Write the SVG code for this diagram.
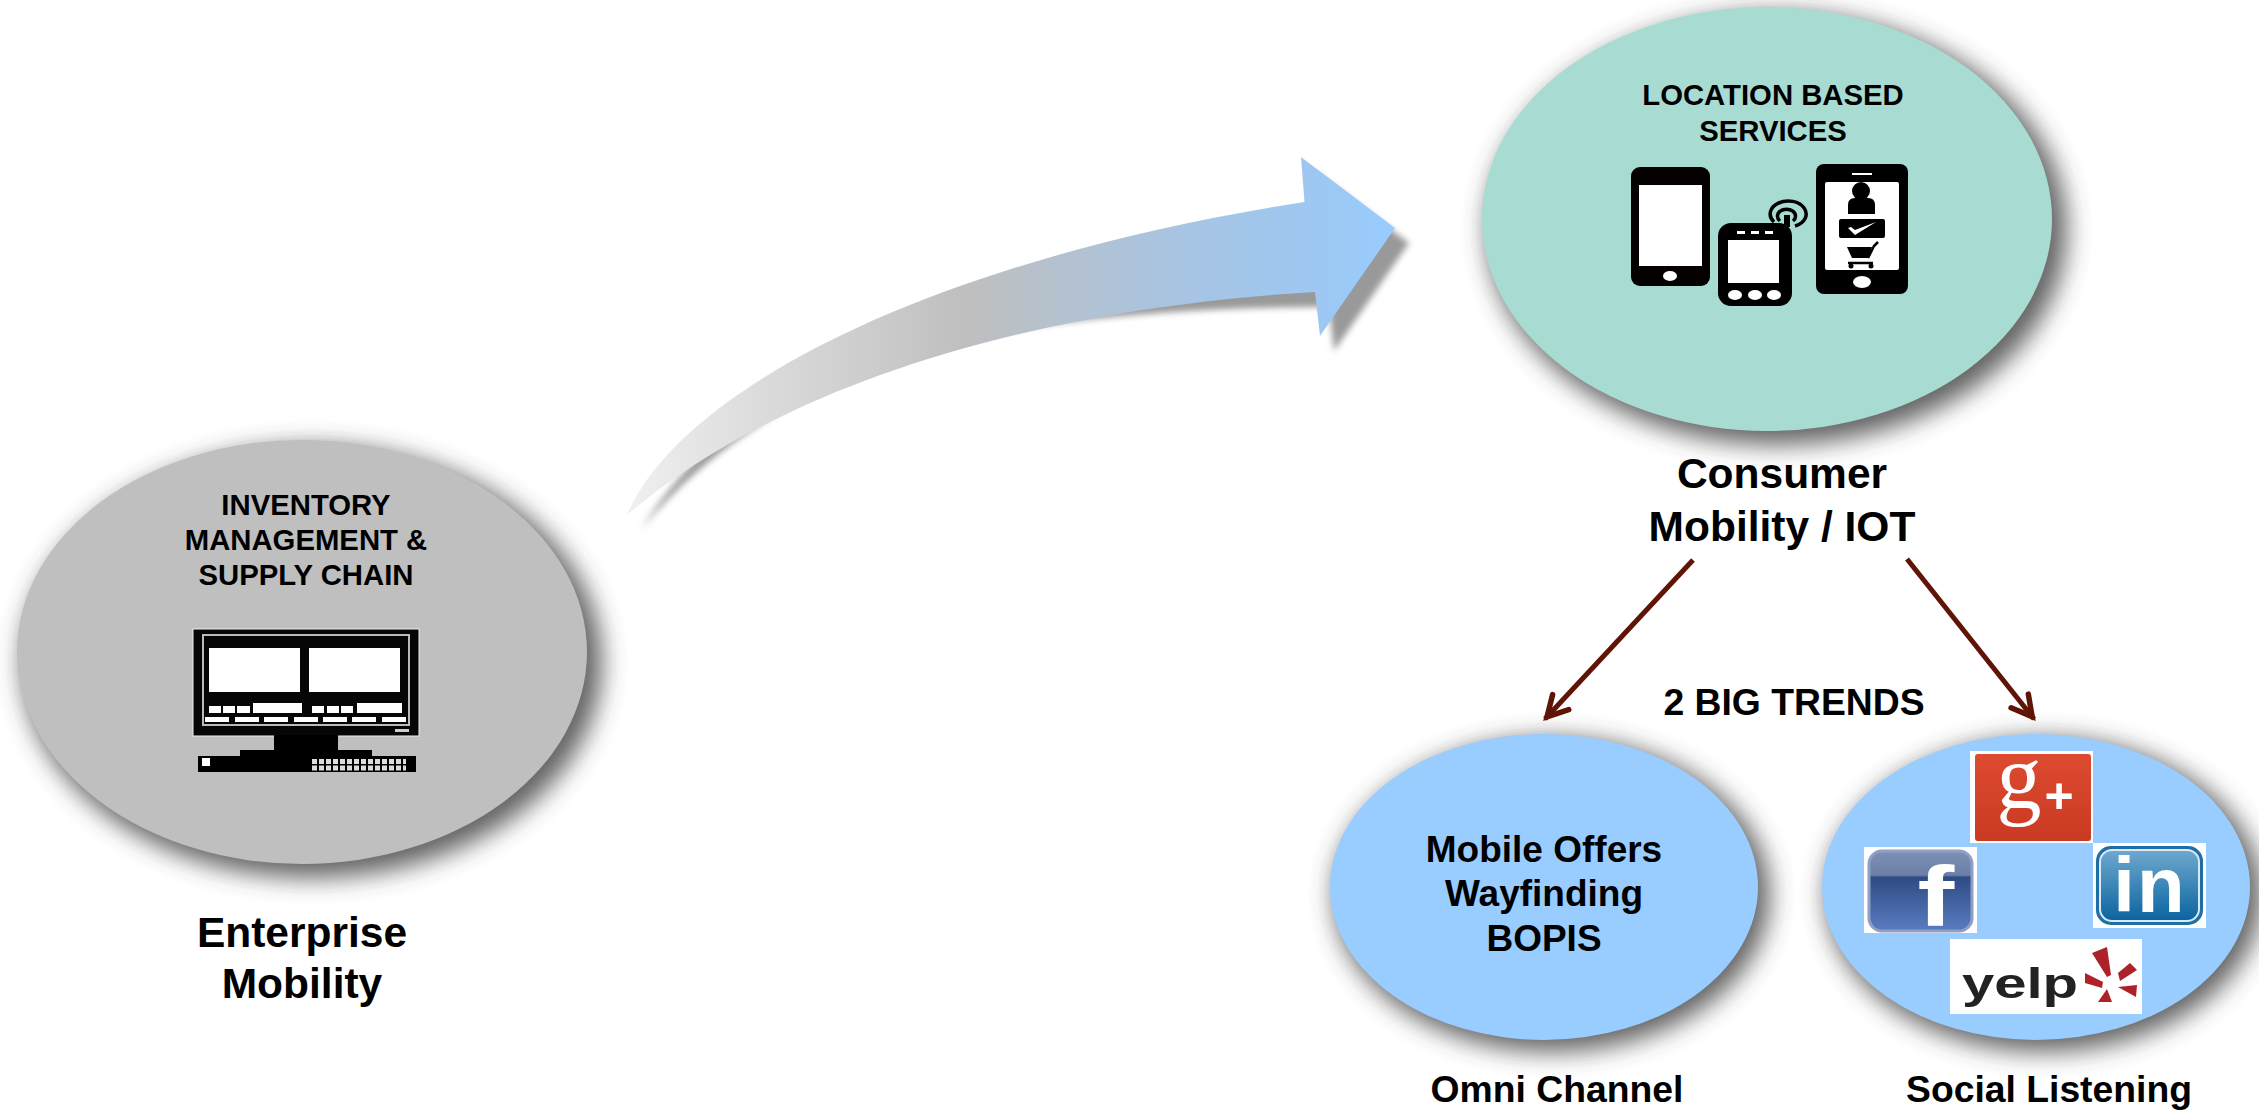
<svg xmlns="http://www.w3.org/2000/svg" width="2259" height="1111" viewBox="0 0 2259 1111">
<defs>
<linearGradient id="ag" gradientUnits="userSpaceOnUse" x1="627" y1="300" x2="1394" y2="300">
<stop offset="0" stop-color="#f0f0f0"/><stop offset="0.17" stop-color="#dcdcdc"/><stop offset="0.44" stop-color="#bfbfbf"/><stop offset="0.72" stop-color="#a8c4e2"/><stop offset="0.92" stop-color="#9cc8f4"/><stop offset="1" stop-color="#99ccff"/>
</linearGradient>
<linearGradient id="fb" x1="0" y1="0" x2="0" y2="1"><stop offset="0" stop-color="#7e90b3"/><stop offset="0.3" stop-color="#6b7fa8"/><stop offset="0.33" stop-color="#2f4b85"/><stop offset="1" stop-color="#5a7cc0"/></linearGradient>
<linearGradient id="li" x1="0" y1="0" x2="0" y2="1"><stop offset="0" stop-color="#6fa8cf"/><stop offset="1" stop-color="#0a64a0"/></linearGradient>
<linearGradient id="gp" x1="0" y1="0" x2="0" y2="1"><stop offset="0" stop-color="#dd4b30"/><stop offset="1" stop-color="#c93a22"/></linearGradient>
<filter id="sh" x="-15%" y="-15%" width="130%" height="130%"><feGaussianBlur stdDeviation="12"/></filter>
<filter id="sa" x="-10%" y="-10%" width="120%" height="120%"><feGaussianBlur stdDeviation="3"/></filter>
<marker id="ah" markerUnits="userSpaceOnUse" markerWidth="32" markerHeight="32" refX="27" refY="14" orient="auto"><path d="M4 3L24 14L4 25" fill="none" stroke="#5f1406" stroke-width="5.500" stroke-linecap="round" stroke-linejoin="miter"/></marker>
</defs>
<style>
text{font-family:"Liberation Sans",Arial,sans-serif;font-weight:700;fill:#000;text-anchor:middle}
.s{font-size:29.300px}.l{font-size:42.500px}.m{font-size:37px}.t{font-size:37.300px}.b{fill:#000}.w{fill:#fff}
.c{stroke:#5f1406;stroke-width:5;fill:none;marker-end:url(#ah)}
.ds{fill:#3c3c3c;opacity:0.8;filter:url(#sh)}
</style>
<rect width="2259" height="1111" fill="#fff"/>
<g id="big-arrow">
<path d="M627 515C690 435 820 340 1015 312C1110 298 1220 292 1315 292L1320 336L1395 228L1301 157L1304.500 202C1010 250 740 330 627 515Z" transform="translate(14 15)" fill="#808080" opacity="0.8" filter="url(#sa)"/>
<path d="M627 515C760 400 1000 310 1315 292L1320 336L1395 228L1301 157L1304.500 202C930 260 680 390 627 515Z" fill="url(#ag)"/>
</g>
<g id="enterprise">
<ellipse class="ds" cx="312" cy="662" rx="290" ry="216"/>
<ellipse cx="302" cy="652" rx="285" ry="212" fill="#bfbfbf"/>
<text class="s" x="306" y="515">INVENTORY</text><text class="s" x="306" y="550">MANAGEMENT &amp;</text><text class="s" x="306" y="585">SUPPLY CHAIN</text>
<rect x="193" y="629" width="226" height="107" fill="#060606" stroke="#eee" stroke-width="1"/>
<rect x="203" y="635" width="206" height="90" fill="none" stroke="#bbb" stroke-width="2"/>
<rect x="209" y="648" width="91" height="44" class="w"/><rect x="309" y="648" width="91" height="44" class="w"/>
<g class="w"><rect x="209" y="706" width="12" height="7"/><rect x="223" y="706" width="12" height="7"/><rect x="237" y="706" width="13" height="7"/><rect x="253" y="703" width="49" height="10"/><rect x="312" y="706" width="12" height="7"/><rect x="327" y="706" width="12" height="7"/><rect x="341" y="706" width="12" height="7"/><rect x="357" y="703" width="45" height="10"/><rect x="205" y="717" width="24" height="5"/><rect x="235" y="717" width="24" height="5"/><rect x="264" y="717" width="24" height="5"/><rect x="294" y="717" width="24" height="5"/><rect x="323" y="717" width="24" height="5"/><rect x="352" y="717" width="24" height="5"/><rect x="382" y="717" width="24" height="5"/></g>
<rect x="395" y="729" width="14" height="3" fill="#ccc"/>
<rect x="274" y="735" width="64" height="15" class="b"/><rect x="240" y="750" width="132" height="8" class="b"/><rect x="198" y="756" width="218" height="16" class="b"/>
<rect x="202" y="758" width="8" height="8" class="w"/>
<path d="M312 761.500H406M312 768H406" stroke="#ddd" stroke-width="5" stroke-dasharray="5 2" fill="none"/>
<text class="l" x="302" y="947">Enterprise</text><text class="l" x="302" y="998">Mobility</text>
</g>
<g id="consumer">
<ellipse class="ds" cx="1777" cy="229" rx="290" ry="216"/>
<ellipse cx="1767" cy="219" rx="285" ry="212" fill="#a8dcd3"/>
<text class="s" x="1773" y="105">LOCATION BASED</text><text class="s" x="1773" y="141">SERVICES</text>
<rect x="1631" y="167" width="79" height="119" rx="9" fill="#050000"/><rect x="1639" y="185" width="63" height="81" class="w"/><ellipse cx="1670" cy="276" rx="7" ry="5" class="w"/>
<rect x="1718" y="223" width="74" height="83" rx="13" class="b"/><rect x="1728" y="240" width="51" height="43" class="w"/>
<g class="w"><rect x="1737" y="231" width="8" height="3"/><rect x="1751" y="231" width="8" height="3"/><rect x="1765" y="231" width="8" height="3"/><ellipse cx="1735" cy="295" rx="7" ry="5"/><ellipse cx="1755" cy="295" rx="7" ry="5"/><ellipse cx="1774" cy="295" rx="7" ry="5"/></g>
<rect x="1784" y="215" width="6" height="12" class="b"/>
<path d="M1774 222A18 13 0 1 1 1795 226M1780 221A9 7 0 1 1 1793 221" stroke="#000" stroke-width="3.500" fill="none"/>
<rect x="1816" y="164" width="92" height="130" rx="8" class="b"/><rect x="1825" y="182" width="74" height="88" rx="2" class="w"/><rect x="1852" y="173" width="20" height="2" class="w"/><ellipse cx="1862" cy="282" rx="9" ry="6" class="w"/>
<circle cx="1861" cy="191" r="9" class="b"/><path d="M1848 214V205Q1848 198 1855 198H1868Q1875 198 1875 205V214Z" class="b"/><rect x="1839" y="219" width="46" height="19" rx="2" class="b"/><path d="M1848 228L1855 235L1876 222L1855 230L1851 227Z" class="w"/><path d="M1847 247H1872L1868 258H1852Z" class="b"/><path d="M1868 258L1874 246L1878 242M1848 263H1873" stroke="#000" stroke-width="2.500" fill="none"/><circle cx="1851" cy="266" r="2.500" class="b"/><circle cx="1871" cy="266" r="2.500" class="b"/>
<text class="l" x="1782" y="488">Consumer</text><text class="l" x="1782" y="541">Mobility / IOT</text>
</g>
<g id="connectors">
<line class="c" x1="1693" y1="560" x2="1545" y2="719"/>
<line class="c" x1="1907" y1="559" x2="2034" y2="719"/>
</g>
<text class="t" x="1794" y="715">2 BIG TRENDS</text>
<g id="omni">
<ellipse class="ds" cx="1552" cy="895" rx="218" ry="157"/>
<ellipse cx="1544" cy="887" rx="214" ry="153" fill="#99ccff"/>
<text class="m" x="1544" y="862">Mobile Offers</text><text class="m" x="1544" y="906">Wayfinding</text><text class="m" x="1544" y="951">BOPIS</text>
<text class="t" x="1557" y="1102">Omni Channel</text>
</g>
<g id="social">
<ellipse class="ds" cx="2044" cy="895" rx="218" ry="157"/>
<ellipse cx="2036" cy="887" rx="214" ry="153" fill="#99ccff"/>
<rect x="1970" y="751" width="123" height="92" class="w"/><rect x="1975" y="754" width="116" height="87" rx="3" fill="url(#gp)"/>
<text x="2019" y="808" style="font-family:'Liberation Serif',serif;font-size:90px;font-weight:400;fill:#fff">g</text><text x="2059" y="813" style="font-size:50px;fill:#fff">+</text>
<rect x="1864" y="847" width="113" height="86" class="w"/><rect x="1869" y="851" width="103" height="80" rx="13" fill="url(#fb)" stroke="#8ea0c4" stroke-width="3"/>
<text transform="translate(1936 926) scale(1.3 1)" style="font-size:85px;fill:#fff">f</text>
<rect x="2093" y="843" width="113" height="85" class="w"/><rect x="2096" y="846" width="107" height="79" rx="15" fill="#1e6fa5"/><rect x="2100" y="850" width="99" height="71" rx="12" fill="url(#li)" stroke="#dce9f2" stroke-width="2"/>
<text x="2150" y="912" style="font-size:78px;letter-spacing:2px;fill:#fff">in</text>
<rect x="1950" y="939" width="192" height="75" class="w"/>
<text transform="translate(2020 998) scale(1.35 1)" style="font-size:43px;fill:#222">yelp</text>
<g fill="#af2128"><path d="M2092 953L2107 947L2111 975L2107 977Z"/><path d="M2118 973L2130 963L2137 970L2120 981Z"/><path d="M2118 987L2137 985L2136 997Z"/><path d="M2107 989L2112 1002L2098 1002Z"/><path d="M2085 973L2103 982L2102 988L2085 983Z"/></g>
<text class="t" x="2049" y="1102">Social Listening</text>
</g>
</svg>
